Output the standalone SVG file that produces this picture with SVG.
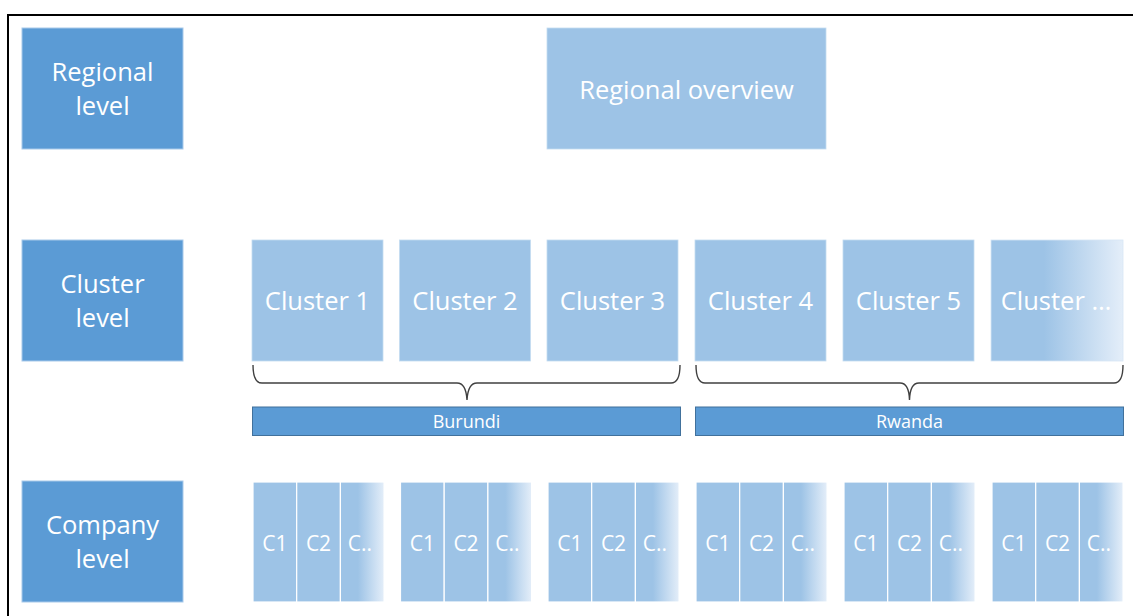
<svg xmlns="http://www.w3.org/2000/svg" width="1133" height="616" viewBox="0 0 1133 616">
  <defs>
    <linearGradient id="fade" x1="0" y1="0" x2="1" y2="0">
      <stop offset="0" stop-color="#9dc3e6"/>
      <stop offset="0.4" stop-color="#9dc3e6"/>
      <stop offset="1" stop-color="#e4eef9"/>
    </linearGradient>
    <style>
      text { font-family: "Open Sans", "Liberation Sans", sans-serif; fill: #ffffff; text-anchor: middle; }
      .level { fill: #5b9bd5; stroke: #a8c9ea; stroke-width: 1; }
      .light { fill: #9dc3e6; stroke: #c4dcf1; stroke-width: 0.8; }
      .fade { fill: url(#fade); stroke: #d6e6f6; stroke-width: 0.8; }
      .col { fill: #9dc3e6; stroke: #ffffff; stroke-width: 1.2; }
      .colfade { fill: url(#fade); stroke: #ffffff; stroke-width: 1.2; }
      .country { fill: #5b9bd5; stroke: #41719c; stroke-width: 1; }
      .big { font-size: 25.5px; }
      .mid { font-size: 21px; }
      .small { font-size: 18px; }
      .brace { fill: none; stroke: #404040; stroke-width: 1.4; }
    </style>
  </defs>

  <rect width="1133" height="616" fill="#ffffff"/>
  <!-- frame -->
  <path d="M8,616 L8,15 L1133,15" fill="none" stroke="#000000" stroke-width="2"/>

  <!-- level labels -->
  <g id="regional-level">
    <rect class="level" x="22" y="28" width="161" height="121"/>
    <text class="big" x="102.5" y="81">Regional</text>
    <text class="big" x="102.5" y="115">level</text>
  </g>
  <g id="cluster-level">
    <rect class="level" x="22" y="240" width="161" height="121"/>
    <text class="big" x="102.5" y="293">Cluster</text>
    <text class="big" x="102.5" y="327">level</text>
  </g>
  <g id="company-level">
    <rect class="level" x="22" y="481" width="161" height="121"/>
    <text class="big" x="102.5" y="534">Company</text>
    <text class="big" x="102.5" y="568">level</text>
  </g>

  <!-- regional overview -->
  <g id="regional-overview">
    <rect class="light" x="547" y="28" width="279" height="121"/>
    <text class="big" x="686.5" y="99">Regional overview</text>
  </g>

  <!-- clusters -->
  <g id="cluster-1">
    <rect class="light" x="252" y="240" width="131" height="121"/>
    <text class="big" x="317.5" y="310">Cluster 1</text>
  </g>
  <g id="cluster-2">
    <rect class="light" x="399.5" y="240" width="131" height="121"/>
    <text class="big" x="465" y="310">Cluster 2</text>
  </g>
  <g id="cluster-3">
    <rect class="light" x="547" y="240" width="131" height="121"/>
    <text class="big" x="612.5" y="310">Cluster 3</text>
  </g>
  <g id="cluster-4">
    <rect class="light" x="695" y="240" width="131" height="121"/>
    <text class="big" x="760.5" y="310">Cluster 4</text>
  </g>
  <g id="cluster-5">
    <rect class="light" x="843" y="240" width="131" height="121"/>
    <text class="big" x="908.5" y="310">Cluster 5</text>
  </g>
  <g id="cluster-more">
    <rect class="fade" x="991" y="240" width="132" height="121"/>
    <text class="big" x="1056" y="310">Cluster …</text>
  </g>

  <!-- braces grouping clusters by country -->
  <g id="connectors">
    <path class="brace" d="M253,365 Q253,383 262,383 L457,383 Q466,383 467,400 Q468,383 477,383 L671,383 Q680,383 680,365"/>
    <path class="brace" d="M696,365 Q696,383 705,383 L900,383 Q909,383 909.5,400 Q910,383 919,383 L1114,383 Q1123,383 1123,365"/>
  </g>

  <!-- countries -->
  <g id="burundi">
    <rect class="country" x="252.5" y="407" width="428" height="28.5"/>
    <text class="small" x="466.5" y="428">Burundi</text>
  </g>
  <g id="rwanda">
    <rect class="country" x="695.5" y="407" width="428" height="28.5"/>
    <text class="small" x="909.5" y="428">Rwanda</text>
  </g>

  <!-- companies per cluster -->
  <g id="companies-1">
    <rect class="col" x="253" y="482" width="43.7" height="120"/>
    <rect class="col" x="296.7" y="482" width="43.7" height="120"/>
    <rect class="colfade" x="340.4" y="482" width="43.7" height="120"/>
    <text class="mid" x="274.8" y="551">C1</text>
    <text class="mid" x="318.5" y="551">C2</text>
    <text class="mid" x="360" y="551">C..</text>
  </g>
  <g id="companies-2">
    <rect class="col" x="400.5" y="482" width="43.7" height="120"/>
    <rect class="col" x="444.2" y="482" width="43.7" height="120"/>
    <rect class="colfade" x="487.9" y="482" width="43.7" height="120"/>
    <text class="mid" x="422.3" y="551">C1</text>
    <text class="mid" x="466" y="551">C2</text>
    <text class="mid" x="507.5" y="551">C..</text>
  </g>
  <g id="companies-3">
    <rect class="col" x="548" y="482" width="43.7" height="120"/>
    <rect class="col" x="591.7" y="482" width="43.7" height="120"/>
    <rect class="colfade" x="635.4" y="482" width="43.7" height="120"/>
    <text class="mid" x="569.8" y="551">C1</text>
    <text class="mid" x="613.5" y="551">C2</text>
    <text class="mid" x="655" y="551">C..</text>
  </g>
  <g id="companies-4">
    <rect class="col" x="696" y="482" width="43.7" height="120"/>
    <rect class="col" x="739.7" y="482" width="43.7" height="120"/>
    <rect class="colfade" x="783.4" y="482" width="43.7" height="120"/>
    <text class="mid" x="717.8" y="551">C1</text>
    <text class="mid" x="761.5" y="551">C2</text>
    <text class="mid" x="803" y="551">C..</text>
  </g>
  <g id="companies-5">
    <rect class="col" x="844" y="482" width="43.7" height="120"/>
    <rect class="col" x="887.7" y="482" width="43.7" height="120"/>
    <rect class="colfade" x="931.4" y="482" width="43.7" height="120"/>
    <text class="mid" x="865.8" y="551">C1</text>
    <text class="mid" x="909.5" y="551">C2</text>
    <text class="mid" x="951" y="551">C..</text>
  </g>
  <g id="companies-6">
    <rect class="col" x="992" y="482" width="43.7" height="120"/>
    <rect class="col" x="1035.7" y="482" width="43.7" height="120"/>
    <rect class="colfade" x="1079.4" y="482" width="43.7" height="120"/>
    <text class="mid" x="1013.8" y="551">C1</text>
    <text class="mid" x="1057.5" y="551">C2</text>
    <text class="mid" x="1099" y="551">C..</text>
  </g>
</svg>
